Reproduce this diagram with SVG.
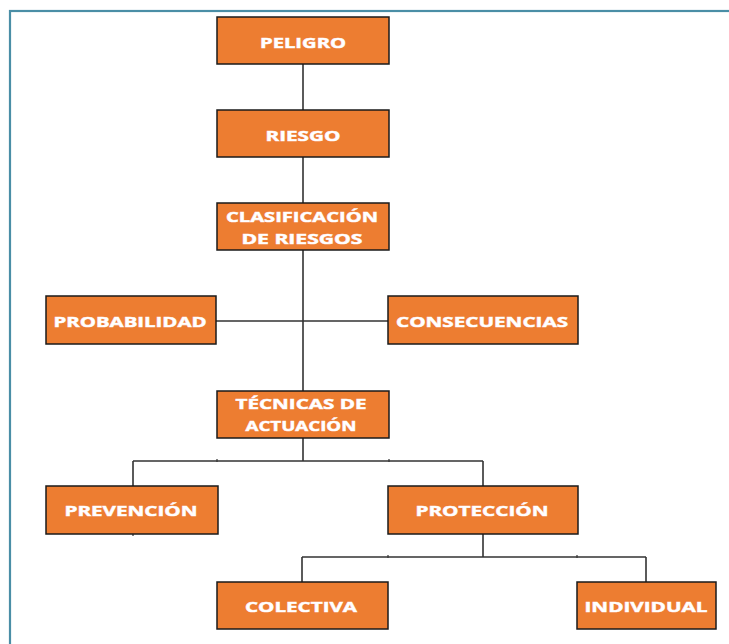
<svg xmlns="http://www.w3.org/2000/svg" width="729" height="644" viewBox="0 0 729 644">
<style>
.box{fill:#ED7D31;stroke:#1a1a1a;stroke-width:1.5}
.t{font-family:"Open Sans","Liberation Sans",sans-serif;font-weight:bold;font-size:15px;fill:#ffffff;text-anchor:middle;stroke:#fbe3e8;stroke-width:0.6;paint-order:stroke}
.c{fill:none;stroke:#333333;stroke-width:1.6}
.k{fill:none;stroke:#333333;stroke-width:1.2}
</style>
<rect x="10" y="11" width="740" height="660" fill="#ffffff" stroke="#4a8ea6" stroke-width="2.2"/>
<g id="connectors">
<path class="c" d="M303 64V110M303 157V203M303 250V391M216 321H388M303 438V461M133 461H483M133 461V486M483 461V486M483 534V557M302 557H646M302 557V582M646 557V582"/>
<path class="k" d="M217 459V462M389 459V462M133 533V536M388 555V558M577 555V558"/>
</g>
<g id="peligro"><rect class="box" x="217" y="17" width="172" height="47"/><text class="t" x="303" y="48" textLength="86" lengthAdjust="spacingAndGlyphs">PELIGRO</text></g>
<g id="riesgo"><rect class="box" x="217" y="110" width="172" height="47"/><text class="t" x="303" y="141" textLength="75" lengthAdjust="spacingAndGlyphs">RIESGO</text></g>
<g id="clasificacion"><rect class="box" x="217" y="203" width="172" height="47"/><text class="t" x="302" y="222" textLength="152" lengthAdjust="spacingAndGlyphs">CLASIFICACIÓN</text><text class="t" x="302" y="244" textLength="121" lengthAdjust="spacingAndGlyphs">DE RIESGOS</text></g>
<g id="probabilidad"><rect class="box" x="46" y="296" width="170" height="48"/><text class="t" x="130" y="327" textLength="153" lengthAdjust="spacingAndGlyphs">PROBABILIDAD</text></g>
<g id="consecuencias"><rect class="box" x="388" y="296" width="190" height="48"/><text class="t" x="482" y="327" textLength="172" lengthAdjust="spacingAndGlyphs">CONSECUENCIAS</text></g>
<g id="tecnicas"><rect class="box" x="217" y="391" width="172" height="47"/><text class="t" x="301" y="409" textLength="131" lengthAdjust="spacingAndGlyphs">TÉCNICAS DE</text><text class="t" x="301" y="431" textLength="111" lengthAdjust="spacingAndGlyphs">ACTUACIÓN</text></g>
<g id="prevencion"><rect class="box" x="46" y="486" width="172" height="48"/><text class="t" x="131" y="516" textLength="133" lengthAdjust="spacingAndGlyphs">PREVENCIÓN</text></g>
<g id="proteccion"><rect class="box" x="388" y="486" width="190" height="48"/><text class="t" x="482" y="516" textLength="133" lengthAdjust="spacingAndGlyphs">PROTECCIÓN</text></g>
<g id="colectiva"><rect class="box" x="217" y="582" width="171" height="47"/><text class="t" x="301" y="612" textLength="112" lengthAdjust="spacingAndGlyphs">COLECTIVA</text></g>
<g id="individual"><rect class="box" x="577" y="582" width="139" height="47"/><text class="t" x="646" y="612" textLength="123" lengthAdjust="spacingAndGlyphs">INDIVIDUAL</text></g>
</svg>
